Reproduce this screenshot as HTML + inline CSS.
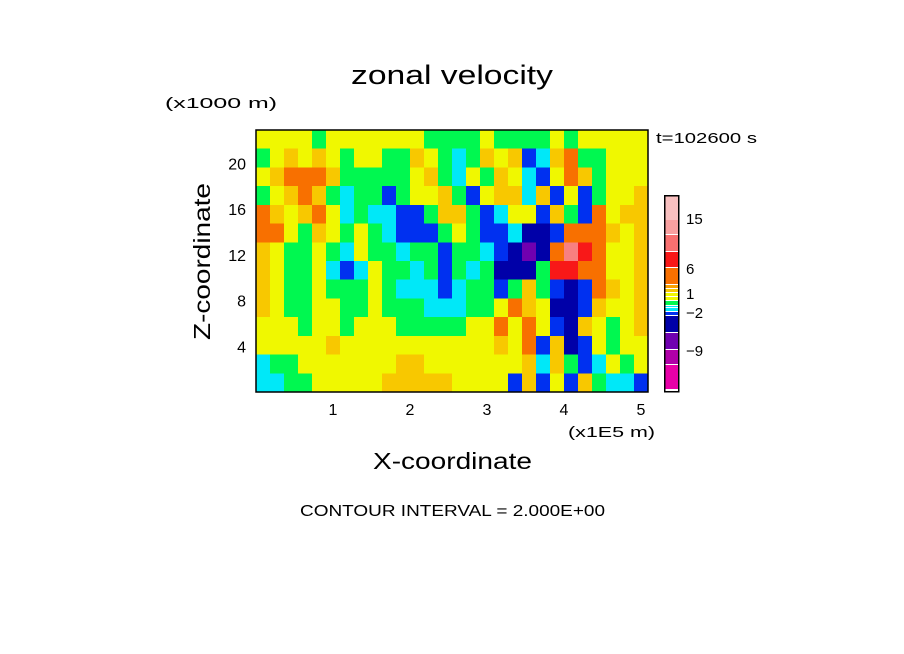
<!DOCTYPE html>
<html><head><meta charset="utf-8">
<style>
body{margin:0;background:#fff;}
svg{display:block;font-family:"Liberation Sans",sans-serif;}
</style></head>
<body>
<svg id="chart" width="904" height="654" viewBox="0 0 904 654">
<text x="351" y="84" font-size="27" textLength="202" lengthAdjust="spacingAndGlyphs">zonal velocity</text>
<text x="165" y="108" font-size="15" textLength="112" lengthAdjust="spacingAndGlyphs">(x1000 m)</text>
<text x="656" y="143" font-size="15" textLength="101" lengthAdjust="spacingAndGlyphs">t=102600 s</text>
<g id="field" shape-rendering="crispEdges"></g>
<rect x="256" y="130" width="392" height="262" fill="none" stroke="#000" stroke-width="1.5"/>
<g id="xticks"></g>
<g id="yticks"></g>
<text x="568" y="437" font-size="15" textLength="87" lengthAdjust="spacingAndGlyphs">(x1E5 m)</text>
<text x="373" y="469" font-size="23" textLength="159" lengthAdjust="spacingAndGlyphs">X-coordinate</text>
<text transform="translate(210,340) rotate(-90)" font-size="23" textLength="157" lengthAdjust="spacingAndGlyphs">Z-coordinate</text>
<g id="cbar" shape-rendering="crispEdges"></g>
<text x="300" y="516" font-size="16" textLength="305" lengthAdjust="spacingAndGlyphs">CONTOUR INTERVAL = 2.000E+00</text>
</svg>
<script>
// level codes: -1 purple, 0 dark blue, 1 blue, 2 cyan, 3 green, 4 yellow, 5 gold, 6 orange, 7 red, 8 pink
const levelColors = {"-3":"#e800a8","-2":"#b000a8","-1":"#7000b0","0":"#0000a8","1":"#0030f0","2":"#00e8f8","3":"#00f850","4":"#f0f800","5":"#f8c800","6":"#f87000","7":"#f81818","8":"#f88080"};
const xTicks = [1,2,3,4,5];
const zTicks = [4,8,12,16,20];
const cbarLabels = [["15",12.3],["6",9.7],["1",7.9],["-2",6.8],["-9",1.6]];
const grid = [
[4,4,4,4,3,4,4,4,4,4,4,4,3,3,3,3,4,3,3,3,3,4,3,4,4,4,4,4],
[3,4,5,4,5,4,3,4,4,3,3,5,4,3,2,3,5,4,5,1,2,5,6,3,3,4,4,4],
[4,5,6,6,6,5,3,3,3,3,3,4,5,3,2,4,3,5,4,2,1,4,6,5,3,4,4,4],
[3,4,5,6,5,3,2,3,3,1,3,4,4,5,3,1,4,5,5,2,5,1,4,1,3,4,4,5],
[6,5,4,5,6,4,2,3,2,2,1,1,3,5,5,3,1,2,4,4,1,5,3,1,6,4,5,5],
[6,6,4,3,5,4,3,4,3,2,1,1,1,3,4,3,1,1,2,0,0,1,6,6,6,5,4,5],
[5,4,3,3,4,3,2,4,3,3,2,3,3,1,3,3,2,1,0,-1,0,6,8,7,6,4,4,5],
[5,4,3,3,4,2,1,2,4,3,3,2,3,1,3,2,3,0,0,0,3,7,7,6,6,4,4,5],
[5,4,3,3,4,3,3,3,4,3,2,2,2,1,2,3,3,1,3,5,3,1,0,1,6,5,4,5],
[5,4,3,3,4,4,3,3,4,3,3,3,2,2,2,3,3,4,6,5,4,0,0,1,5,4,4,5],
[4,4,4,3,4,4,3,4,4,4,3,3,3,3,3,4,4,6,4,6,4,1,0,5,4,3,4,5],
[4,4,4,4,4,5,4,4,4,4,4,4,4,4,4,4,4,5,4,6,1,5,0,1,4,3,4,4],
[2,3,3,4,4,4,4,4,4,4,5,5,4,4,4,4,4,4,4,5,2,5,3,1,2,4,3,4],
[2,2,3,3,4,4,4,4,4,5,5,5,5,5,4,4,4,4,1,5,1,4,1,5,3,2,2,1]
];
const NS="http://www.w3.org/2000/svg";
const X0=256,X1=648,Y0=130,Y1=392;
const xMax=(X1-X0)/77, zMax=(Y1-Y0)/(183/16);
function sx(v){return X0+v/xMax*(X1-X0);}
function sz(v){return Y1-v/zMax*(Y1-Y0);}
const field=document.getElementById('field');
const nr=grid.length,nc=grid[0].length;
for(let r=0;r<nr;r++)for(let c=0;c<nc;c++){
  const x0=sx(c*xMax/nc),x1=sx((c+1)*xMax/nc);
  const y0=sz(zMax-r*zMax/nr),y1=sz(zMax-(r+1)*zMax/nr);
  const e=document.createElementNS(NS,'rect');
  e.setAttribute('x',x0);e.setAttribute('y',y0);
  e.setAttribute('width',x1-x0+0.5);e.setAttribute('height',y1-y0+0.5);
  e.setAttribute('fill',levelColors[String(grid[r][c])]);
  
  
  field.appendChild(e);
}
const xt=document.getElementById('xticks');
xTicks.forEach(v=>{
  const t=document.createElementNS(NS,'text');
  t.setAttribute('x',sx(v));t.setAttribute('y',415);
  t.setAttribute('text-anchor','middle');t.setAttribute('font-size','16');
  t.textContent=v;
  
  
  xt.appendChild(t);
});
const yt=document.getElementById('yticks');
zTicks.forEach(v=>{
  const t=document.createElementNS(NS,'text');
  t.setAttribute('x',246);t.setAttribute('y',sz(v)+6);
  t.setAttribute('text-anchor','end');t.setAttribute('font-size','16');
  t.textContent=v;
  
  
  yt.appendChild(t);
});
const cb=document.getElementById('cbar');
const segB=[390,365,350,333,316,312,308,306,301,297,293,289,285,268,252,235,220,196];
const segCols=["#e800a8","#b000a8","#7000b0","#0000a8","#0030f0","#00e8f8","#00e8f8","#00f850","#f0f800","#f0f800","#f8c800","#f8a000","#f87000","#f81818","#f87070","#f8a0a0","#f8c0c0"];
for(let i=0;i<segCols.length;i++){
  const e=document.createElementNS(NS,'rect');
  e.setAttribute('x',665);e.setAttribute('y',segB[i+1]);
  e.setAttribute('width',13);e.setAttribute('height',segB[i]-segB[i+1]-(i<segCols.length-1?1:0));
  e.setAttribute('fill',segCols[i]);
  
  
  cb.appendChild(e);
}
const fr=document.createElementNS(NS,'rect');
fr.setAttribute('x',664.5);fr.setAttribute('y',195.5);fr.setAttribute('width',14);fr.setAttribute('height',196);
fr.setAttribute('fill','none');fr.setAttribute('stroke','#000');fr.setAttribute('stroke-width','1.5');


cb.appendChild(fr);
const labY={"15":224,"6":274,"1":299,"-2":318,"-9":356};
cbarLabels.forEach(([lab])=>{
  const t=document.createElementNS(NS,'text');
  t.setAttribute('x',686);t.setAttribute('y',labY[lab]);
  t.setAttribute('font-size','15');
  t.textContent=lab.replace('-','\u2212');
  
  
  cb.appendChild(t);
});
</script>
</body></html>
